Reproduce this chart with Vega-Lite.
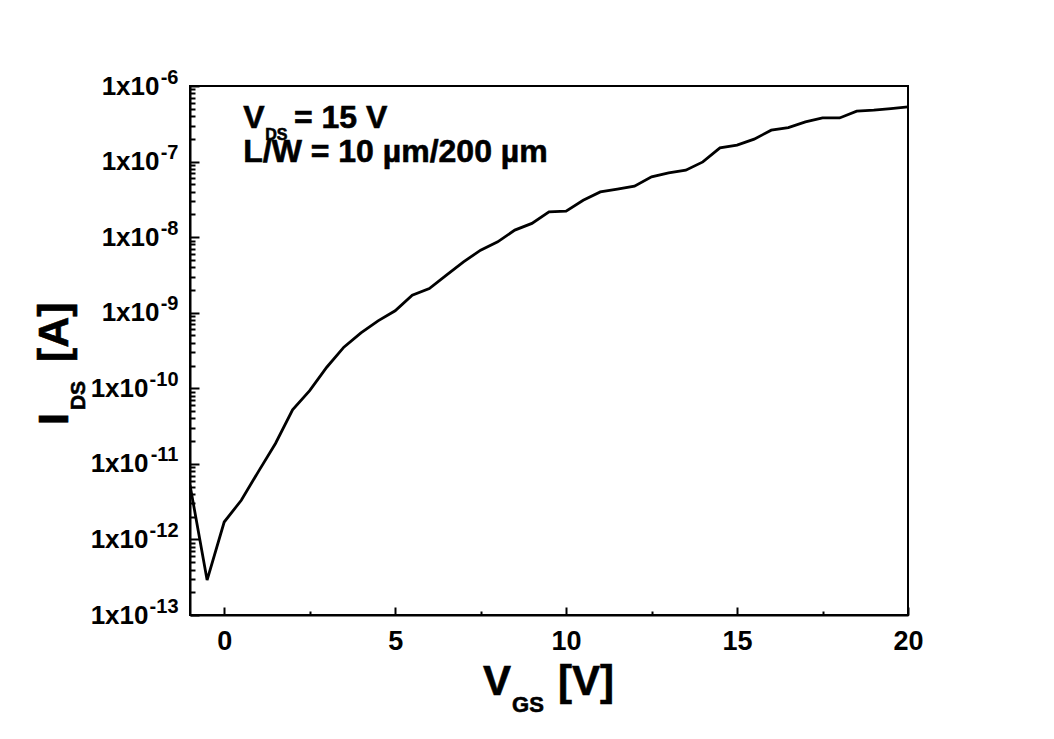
{
  "$schema": "https://vega.github.io/schema/vega-lite/v6.json",
  "width": 718,
  "height": 529,
  "autosize": {"type": "none"},
  "padding": {"left": 190, "top": 86, "right": 146, "bottom": 124},
  "background": "white",
  "config": {
    "view": {"stroke": "black", "strokeWidth": 2},
    "font": "Liberation Sans",
    "axis": {
      "domainColor": "black", "domainWidth": 2, "tickColor": "black", "tickWidth": 2,
      "labelColor": "black", "labelFont": "Liberation Sans", "labelFontWeight": "bold",
      "grid": false, "labelOverlap": false, "labelFlush": false
    },
    "text": {"font": "Liberation Sans", "fontWeight": "bold", "color": "black", "stroke": "black", "strokeWidth": 0.6}
  },
  "datasets": {
    "curve": [
      {"vgs": -1, "ids": 5.25e-12}, {"vgs": -0.5, "ids": 2.9e-13}, {"vgs": 0, "ids": 1.7e-12},
      {"vgs": 0.5, "ids": 3.3e-12}, {"vgs": 1, "ids": 7.9e-12}, {"vgs": 1.5, "ids": 1.86e-11},
      {"vgs": 2, "ids": 5.2e-11}, {"vgs": 2.5, "ids": 9.3e-11}, {"vgs": 3, "ids": 1.9e-10},
      {"vgs": 3.5, "ids": 3.5e-10}, {"vgs": 4, "ids": 5.4e-10}, {"vgs": 4.5, "ids": 7.8e-10},
      {"vgs": 5, "ids": 1.06e-9}, {"vgs": 5.5, "ids": 1.71e-9}, {"vgs": 6, "ids": 2.09e-9},
      {"vgs": 6.5, "ids": 3.14e-9}, {"vgs": 7, "ids": 4.71e-9}, {"vgs": 7.5, "ids": 6.73e-9},
      {"vgs": 8, "ids": 8.67e-9}, {"vgs": 8.5, "ids": 1.24e-8}, {"vgs": 9, "ids": 1.52e-8},
      {"vgs": 9.5, "ids": 2.16e-8}, {"vgs": 10, "ids": 2.21e-8}, {"vgs": 10.5, "ids": 3.08e-8},
      {"vgs": 11, "ids": 3.97e-8}, {"vgs": 11.5, "ids": 4.32e-8}, {"vgs": 12, "ids": 4.73e-8},
      {"vgs": 12.5, "ids": 6.28e-8}, {"vgs": 13, "ids": 7.1e-8}, {"vgs": 13.5, "ids": 7.69e-8},
      {"vgs": 14, "ids": 9.9e-8}, {"vgs": 14.5, "ids": 1.52e-7}, {"vgs": 15, "ids": 1.65e-7},
      {"vgs": 15.5, "ids": 1.98e-7}, {"vgs": 16, "ids": 2.6e-7}, {"vgs": 16.5, "ids": 2.82e-7},
      {"vgs": 17, "ids": 3.35e-7}, {"vgs": 17.5, "ids": 3.78e-7}, {"vgs": 18, "ids": 3.78e-7},
      {"vgs": 18.5, "ids": 4.65e-7}, {"vgs": 19, "ids": 4.79e-7}, {"vgs": 19.5, "ids": 5.03e-7},
      {"vgs": 20, "ids": 5.3e-7}
    ],
    "one": [{}]
  },
  "resolve": {"axis": {"x": "independent", "y": "independent"}},
  "layer": [
    {
      "data": {"name": "curve"},
      "mark": {"type": "line", "color": "black", "strokeWidth": 2.8, "clip": true},
      "encoding": {
        "x": {
          "field": "vgs", "type": "quantitative",
          "scale": {"domain": [-1, 20], "nice": false, "zero": false},
          "axis": {
            "orient": "bottom", "title": null,
            "values": [0, 2.5, 5, 7.5, 10, 12.5, 15, 17.5, 20],
            "labelExpr": "datum.value % 5 == 0 ? datum.label : ''",
            "tickSize": {"condition": {"test": "datum.value % 5 == 0", "value": -8}, "value": -4},
            "labelPadding": 21, "labelFontSize": 27
          }
        },
        "y": {
          "field": "ids", "type": "quantitative",
          "scale": {"type": "log", "domain": [1e-13, 1e-6], "nice": false},
          "axis": {
            "orient": "left", "title": null,
            "values": [1e-13, 2e-13, 3e-13, 4e-13, 5e-13, 6e-13, 7e-13, 8e-13, 9e-13,
                       1e-12, 2e-12, 3e-12, 4e-12, 5e-12, 6e-12, 7e-12, 8e-12, 9e-12,
                       1e-11, 2e-11, 3e-11, 4e-11, 5e-11, 6e-11, 7e-11, 8e-11, 9e-11,
                       1e-10, 2e-10, 3e-10, 4e-10, 5e-10, 6e-10, 7e-10, 8e-10, 9e-10,
                       1e-9, 2e-9, 3e-9, 4e-9, 5e-9, 6e-9, 7e-9, 8e-9, 9e-9,
                       1e-8, 2e-8, 3e-8, 4e-8, 5e-8, 6e-8, 7e-8, 8e-8, 9e-8,
                       1e-7, 2e-7, 3e-7, 4e-7, 5e-7, 6e-7, 7e-7, 8e-7, 9e-7, 1e-6],
            "labelExpr": "abs(log(datum.value)/LN10 - round(log(datum.value)/LN10)) < 0.01 ? '1x10' : ''",
            "tickSize": {"condition": {"test": "abs(log(datum.value)/LN10 - round(log(datum.value)/LN10)) < 0.01", "value": -9}, "value": -5},
            "labelPadding": {"condition": {"test": "datum.value < 5e-10", "value": 51}, "value": 40},
            "labelFontSize": 26, "labelBaseline": "middle"
          }
        }
      }
    },
    {
      "data": {"name": "curve"},
      "mark": {"type": "line", "opacity": 0},
      "encoding": {
        "x": {"field": "vgs", "type": "quantitative", "axis": null},
        "y": {
          "field": "ids", "type": "quantitative",
          "axis": {
            "orient": "left", "title": null, "domain": false, "ticks": false, "tickSize": 0,
            "values": [1e-13, 1e-12, 1e-11, 1e-10, 1e-9, 1e-8, 1e-7, 1e-6],
            "labelExpr": "'' + round(log(datum.value)/LN10)",
            "labelPadding": 12, "labelFontSize": 20, "labelOffset": -9, "labelBaseline": "middle"
          }
        }
      }
    },
    {
      "data": {"name": "one"},
      "mark": {"type": "text", "text": "V", "fontSize": 32, "align": "left", "baseline": "alphabetic"},
      "encoding": {"x": {"datum": 0.556, "type": "quantitative", "axis": null}, "y": {"datum": 2.77e-7, "type": "quantitative", "axis": null}}
    },
    {
      "data": {"name": "one"},
      "mark": {"type": "text", "text": "DS", "fontSize": 16, "align": "left", "baseline": "alphabetic"},
      "encoding": {"x": {"datum": 1.2, "type": "quantitative", "axis": null}, "y": {"datum": 1.92e-7, "type": "quantitative", "axis": null}}
    },
    {
      "data": {"name": "one"},
      "mark": {"type": "text", "text": "= 15 V", "fontSize": 32, "align": "left", "baseline": "alphabetic"},
      "encoding": {"x": {"datum": 2.04, "type": "quantitative", "axis": null}, "y": {"datum": 2.77e-7, "type": "quantitative", "axis": null}}
    },
    {
      "data": {"name": "one"},
      "mark": {"type": "text", "text": "L/W = 10 µm/200 µm", "fontSize": 32, "align": "left", "baseline": "alphabetic"},
      "encoding": {"x": {"datum": 0.556, "type": "quantitative", "axis": null}, "y": {"datum": 9.8e-8, "type": "quantitative", "axis": null}}
    },
    {
      "data": {"name": "one"},
      "mark": {"type": "text", "text": "V", "fontSize": 42, "align": "left", "baseline": "alphabetic", "clip": false},
      "encoding": {"x": {"datum": 7.573, "type": "quantitative", "axis": null}, "y": {"datum": 8.75e-15, "type": "quantitative", "axis": null}}
    },
    {
      "data": {"name": "one"},
      "mark": {"type": "text", "text": "GS", "fontSize": 22, "align": "left", "baseline": "alphabetic", "clip": false},
      "encoding": {"x": {"datum": 8.421, "type": "quantitative", "axis": null}, "y": {"datum": 5.21e-15, "type": "quantitative", "axis": null}}
    },
    {
      "data": {"name": "one"},
      "mark": {"type": "text", "text": "[V]", "fontSize": 42, "align": "left", "baseline": "alphabetic", "clip": false},
      "encoding": {"x": {"datum": 9.766, "type": "quantitative", "axis": null}, "y": {"datum": 8.75e-15, "type": "quantitative", "axis": null}}
    },
    {
      "data": {"name": "one"},
      "mark": {"type": "text", "text": "I", "fontSize": 43, "angle": 270, "align": "left", "baseline": "alphabetic", "clip": false},
      "encoding": {"x": {"datum": -4.561, "type": "quantitative", "axis": null}, "y": {"datum": 3.26e-11, "type": "quantitative", "axis": null}}
    },
    {
      "data": {"name": "one"},
      "mark": {"type": "text", "text": "DS", "fontSize": 21, "angle": 270, "align": "left", "baseline": "alphabetic", "clip": false},
      "encoding": {"x": {"datum": -4.064, "type": "quantitative", "axis": null}, "y": {"datum": 5.15e-11, "type": "quantitative", "axis": null}}
    },
    {
      "data": {"name": "one"},
      "mark": {"type": "text", "text": "[A]", "fontSize": 43, "angle": 270, "align": "left", "baseline": "alphabetic", "clip": false},
      "encoding": {"x": {"datum": -4.561, "type": "quantitative", "axis": null}, "y": {"datum": 2.22e-10, "type": "quantitative", "axis": null}}
    }
  ]
}
